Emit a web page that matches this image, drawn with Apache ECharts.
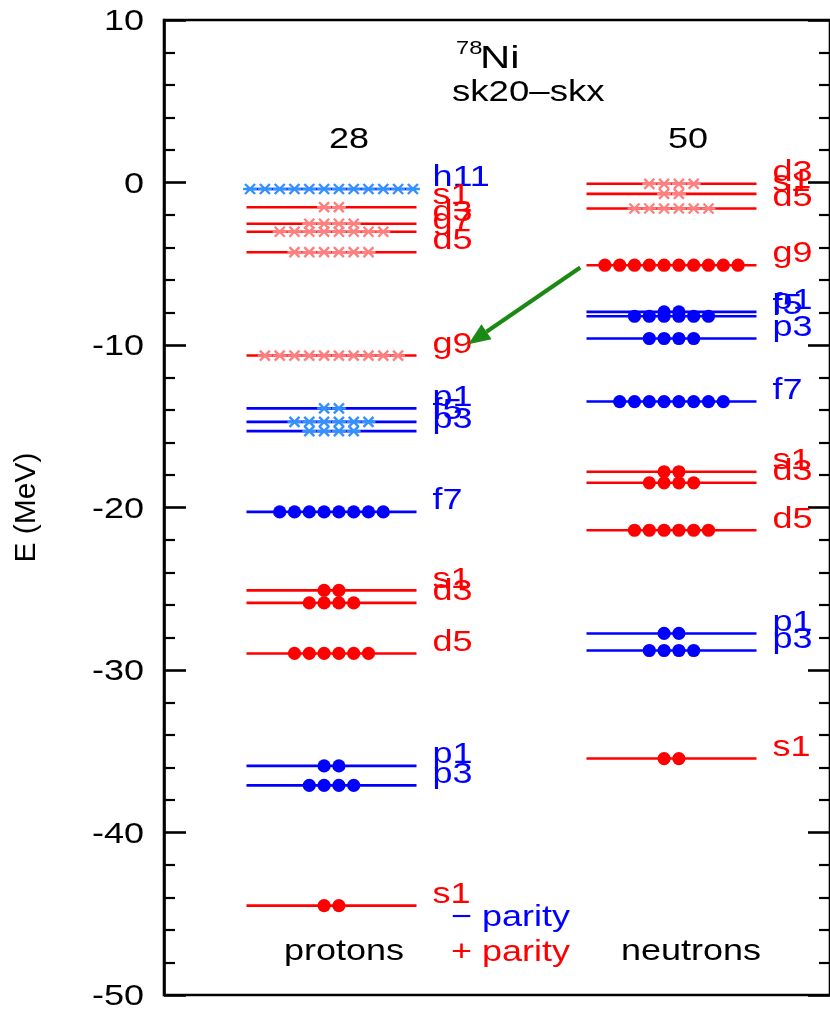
<!DOCTYPE html>
<html><head><meta charset="utf-8">
<script src="https://cdn.jsdelivr.net/npm/echarts@6/dist/echarts.min.js"></script>
<style>html,body{margin:0;padding:0;background:#fff}#c{width:830px;height:1015px}</style>
</head><body><div id="c"></div>
<script>
// ---- data ----
const yTicks = [-50,-40,-30,-20,-10,0,10];
const yTickLabels = ['-50','-40','-30','-20','-10','0','10'];
const columnNames = ['protons','neutrons'];
const columnX = [2.515, 7.62];
const magicNumbers = ['28','50'];

const protonOrbitals = ['h11','s1','d3','g7','d5','g9','p1','f5','p3','f7','s1','d3','d5','p1','p3','s1'];
const protonEnergy   = [-0.4,-1.52,-2.54,-3.03,-4.29,-10.65,-13.9,-14.73,-15.3,-20.27,-25.1,-25.87,-28.98,-35.9,-37.1,-44.5];
const protonStates   = [12,2,4,8,6,10,2,6,4,8,2,4,6,2,4,2];
const protonOccupied = [0,0,0,0,0,0,0,0,0,1,1,1,1,1,1,1];
const protonParity   = ['-','+','+','+','+','+','-','-','-','-','+','+','+','-','-','+'];

const neutronOrbitals = ['d3','s1','d5','g9','p1','f5','p3','f7','s1','d3','d5','p1','p3','s1'];
const neutronEnergy   = [-0.08,-0.7,-1.6,-5.09,-7.96,-8.23,-9.6,-13.48,-17.8,-18.48,-21.4,-27.75,-28.8,-35.45];
const neutronStates   = [4,2,6,10,2,6,4,8,2,4,6,2,4,2];
const neutronOccupied = [0,0,0,1,1,1,1,1,1,1,1,1,1,1];
const neutronParity   = ['+','+','+','+','-','-','-','-','+','+','+','-','-','+'];

const arrowFrom = [6.25, -5.23];
const arrowTo   = [4.57, -9.95];

// ---- styles ----
const FONT = '"Liberation Sans", Arial, Helvetica, sans-serif';
const FS = 30;
const SX = 1.2;
const RED = '#ff0000', BLUE = '#0000ff';
const RED_LIGHT = '#ff7f7f', BLUE_LIGHT = '#3390ff';
const HALF = 85, SP = 14.8, LABEL_DX = 16;

function makeLevels(x, energy, states, occ, parity){
  return energy.map((e,i)=>[x, e, states[i], occ[i], parity[i]==='+'?1:0]);
}
function levelRenderer(labels){
  return function(params, api){
    const x = api.value(0), e = api.value(1), n = api.value(2), occ = api.value(3), pos = api.value(4);
    const p = api.coord([x, e]);
    const col = pos ? RED : BLUE;
    const light = pos ? RED_LIGHT : BLUE_LIGHT;
    const ch = [{type:'line', shape:{x1:p[0]-HALF, y1:p[1], x2:p[0]+HALF, y2:p[1]}, style:{stroke:col, lineWidth:2.6}}];
    for (let i=0;i<n;i++){
      const cx = p[0] + (i-(n-1)/2)*SP;
      if (occ){
        ch.push({type:'circle', shape:{cx:cx, cy:p[1], r:6.6}, style:{fill:col}});
      } else {
        const d = 5;
        ch.push({type:'line', shape:{x1:cx-d,y1:p[1]-d,x2:cx+d,y2:p[1]+d}, style:{stroke:light, lineWidth:2.4}});
        ch.push({type:'line', shape:{x1:cx-d,y1:p[1]+d,x2:cx+d,y2:p[1]-d}, style:{stroke:light, lineWidth:2.4}});
        ch.push({type:'line', shape:{x1:cx-d-2,y1:p[1],x2:cx+d+2,y2:p[1]}, style:{stroke:light, lineWidth:2.4}});
      }
    }
    ch.push({type:'text', x:p[0]+HALF+LABEL_DX, y:p[1]-11, scaleX:SX,
      style:{text:labels[params.dataIndex], fill:col, fontSize:FS, fontFamily:FONT, align:'left', verticalAlign:'middle'}});
    return {type:'group', children:ch};
  };
}

function txt(x, y, s, opts, sx){
  return {type:'text', x:x, y:y, scaleX:sx||SX, silent:true,
    style:Object.assign({text:s, fontSize:FS, fontFamily:FONT, fill:'#000', align:'center', verticalAlign:'middle'}, opts||{})};
}

const chart = echarts.init(document.getElementById('c'));
const axisCommon = {
  type:'value', min:-50, max:10, interval:10,
  axisLine:{show:true, lineStyle:{color:'#000', width:2.6}},
  axisTick:{show:true, inside:true, length:22, lineStyle:{color:'#000', width:2.6}},
  minorTick:{show:true, splitNumber:5, length:11, lineStyle:{color:'#000', width:2.2}},
  splitLine:{show:false},
  axisLabel:{show:false}
};
chart.setOption({
  animation:false,
  backgroundColor:'#fff',
  grid:{left:164, top:20, width:670, height:975, show:true, borderColor:'#000', borderWidth:2.6},
  xAxis:{type:'value', min:0, max:10, show:false},
  yAxis:[
    Object.assign({}, axisCommon, {position:'left',
      name:'E (MeV)', nameLocation:'middle', nameRotate:90, nameGap:122,
      nameTextStyle:{fontSize:FS, fontFamily:FONT, color:'#000'}}),
    Object.assign({}, axisCommon, {position:'right'})
  ],
  series:[
    {type:'custom', name:'tickLabels', data:yTicks.map(v=>[0, v]), clip:false, silent:true,
     renderItem:function(params, api){
       const p = api.coord([0, api.value(1)]);
       return {type:'text', x:p[0]-20, y:p[1]+2, scaleX:SX,
         style:{text:yTickLabels[params.dataIndex], fontSize:FS, fontFamily:FONT, fill:'#000', align:'right', verticalAlign:'middle'}};
     }},
    {type:'custom', name:'protons', renderItem:levelRenderer(protonOrbitals),
     data:makeLevels(columnX[0], protonEnergy, protonStates, protonOccupied, protonParity), clip:false},
    {type:'custom', name:'neutrons', renderItem:levelRenderer(neutronOrbitals),
     data:makeLevels(columnX[1], neutronEnergy, neutronStates, neutronOccupied, neutronParity), clip:false},
    {type:'custom', name:'arrow', data:[[arrowFrom[0],arrowFrom[1],arrowTo[0],arrowTo[1]]],
     renderItem:function(params, api){
       const a = api.coord([api.value(0), api.value(1)]);
       const b = api.coord([api.value(2), api.value(3)]);
       const dx = b[0]-a[0], dy = b[1]-a[1], L = Math.hypot(dx,dy);
       const ux = dx/L, uy = dy/L, hl = 22, hw = 9;
       const bx = b[0]-ux*hl, by = b[1]-uy*hl;
       return {type:'group', children:[
         {type:'line', shape:{x1:a[0],y1:a[1],x2:bx,y2:by}, style:{stroke:'#1a8a14', lineWidth:4}},
         {type:'polygon', shape:{points:[[b[0],b[1]],[bx-uy*hw,by+ux*hw],[bx+uy*hw,by-ux*hw]]}, style:{fill:'#1a8a14'}}
       ]};
     }}
  ],
  graphic:[
    txt(456, 39, '78', {fontSize:19, align:'left', verticalAlign:'top'}, 1.25),
    txt(480, 44, 'Ni', {fontSize:31, align:'left', verticalAlign:'top'}, 1.35),
    txt(452, 78, 'sk20–skx', {align:'left', verticalAlign:'top'}, 1.22),
    txt(349, 140, magicNumbers[0]),
    txt(688, 140, magicNumbers[1]),
    txt(344, 952, columnNames[0]),
    txt(691, 952, columnNames[1]),
    txt(451, 918, '− parity', {fill:BLUE, align:'left'}),
    txt(451, 953, '+ parity', {fill:RED, align:'left'})
  ]
});
</script></body></html>
